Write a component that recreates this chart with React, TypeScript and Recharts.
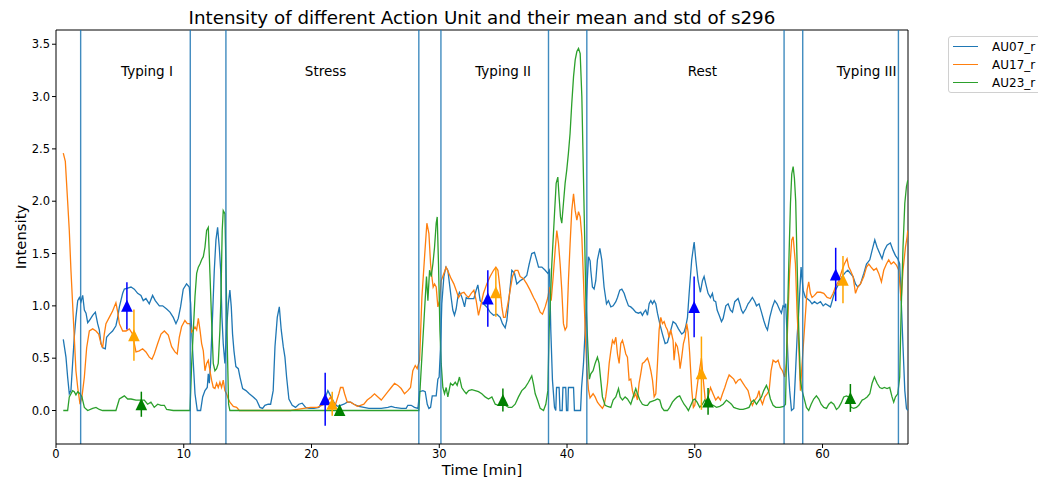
import React from 'react';
import { ComposedChart, Line, Scatter, XAxis, YAxis, ReferenceLine, ErrorBar, Label } from 'recharts';

const X_MAX = 66.69;
const Y_MIN = -0.32;
const Y_MAX = 3.636;
const xTicks = [0, 10, 20, 30, 40, 50, 60];
const yTicks = [0, 0.5, 1, 1.5, 2, 2.5, 3, 3.5];

const sectionBounds = [1.93, 10.51, 13.3, 28.4, 30.13, 38.55, 41.55, 56.99, 58.45, 65.94];
const sectionNames = ['Typing I', 'Stress', 'Typing II', 'Rest', 'Typing III'];
const sectionLabelTimes = [7.12, 21.1, 35.0, 50.6, 63.45];
const sectionLabelLevel = 3.245;

const seriesNames = ['AU07_r', 'AU17_r', 'AU23_r'];
const seriesColors = ['#1f77b4', '#ff7f0e', '#2ca02c'];
const statColors = ['#0000ff', '#ffa500', '#008000'];

// [time (min), intensity]
const AU07: [number, number][] = [[0.57,0.68],[0.78,0.51],[0.91,0.32],[1.04,0.16],[1.17,0.19],[1.30,0.45],[1.43,0.70],[1.56,0.89],[1.70,1.05],[1.83,1.08],[1.96,1.04],[2.09,1.10],[2.22,0.96],[2.35,0.93],[2.48,0.84],[2.61,0.86],[2.87,0.91],[3.08,0.94],[3.26,0.83],[3.39,0.77],[3.52,0.64],[3.65,0.60],[3.86,0.59],[3.96,0.70],[4.17,0.73],[4.43,0.76],[4.69,0.81],[4.83,0.89],[4.96,0.99],[5.22,1.12],[5.35,1.16],[5.61,1.17],[5.87,1.18],[6.13,1.16],[6.39,1.12],[6.65,1.10],[6.83,1.05],[7.04,1.07],[7.30,1.02],[7.56,1.10],[7.77,1.05],[8.09,1.00],[8.35,1.00],[8.66,0.97],[8.92,0.94],[9.18,0.89],[9.39,0.83],[9.57,0.88],[9.75,0.99],[9.96,1.16],[10.22,1.21],[10.43,1.18],[10.54,1.02],[10.64,0.70],[10.75,0.45],[10.88,0.16],[11.06,0.0],[11.32,0.0],[11.48,0.13],[11.66,0.19],[11.84,0.22],[11.92,0.35],[12.0,0.26],[12.10,0.45],[12.26,0.92],[12.39,1.34],[12.52,1.63],[12.65,1.75],[12.78,1.56],[12.89,1.34],[12.99,0.89],[13.09,0.64],[13.22,0.45],[13.35,0.77],[13.49,1.02],[13.61,1.15],[13.72,0.99],[13.82,0.73],[13.93,0.57],[14.08,0.42],[14.27,0.40],[14.40,0.32],[14.61,0.21],[14.87,0.19],[15.13,0.16],[15.44,0.13],[15.70,0.10],[15.96,0.03],[16.17,0.02],[16.35,0.05],[16.61,0.06],[16.80,0.06],[17.0,0.19],[17.14,0.61],[17.32,0.89],[17.48,0.99],[17.63,0.77],[17.79,0.61],[17.92,0.51],[18.05,0.32],[18.23,0.11],[18.49,0.05],[18.75,0.03],[19.01,0.06],[19.27,0.07],[19.54,0.03],[19.80,0.02],[20.19,0.02],[20.58,0.03],[20.84,0.08],[21.10,0.13],[21.28,0.19],[21.49,0.14],[21.75,0.08],[22.01,0.04],[22.27,0.05],[22.53,0.06],[22.80,0.08],[23.06,0.08],[23.32,0.06],[23.71,0.04],[24.10,0.03],[24.49,0.02],[24.93,0.02],[25.46,0.02],[25.98,0.03],[26.24,0.04],[26.50,0.03],[27.02,0.02],[27.41,0.02],[27.54,0.05],[27.80,0.05],[28.06,0.03],[28.33,0.02],[28.46,0.18],[28.72,0.19],[28.90,0.18],[29.06,0.06],[29.19,0.02],[29.32,0.03],[29.45,0.14],[29.76,0.14],[29.89,0.30],[29.99,0.32],[30.10,0.61],[30.20,1.02],[30.36,1.28],[30.52,1.37],[30.67,1.34],[30.80,1.21],[30.93,1.08],[31.06,0.96],[31.19,0.91],[31.32,0.97],[31.45,1.08],[31.58,1.13],[31.72,1.10],[31.85,1.05],[31.98,0.99],[32.11,1.08],[32.24,1.07],[32.50,1.07],[32.71,1.07],[32.89,1.15],[33.02,1.20],[33.20,1.05],[33.46,1.02],[33.72,0.99],[33.98,0.94],[34.25,0.91],[34.51,0.92],[34.77,0.89],[34.95,0.83],[35.16,0.79],[35.29,0.86],[35.47,1.08],[35.68,1.34],[35.89,1.31],[36.07,1.21],[36.33,1.24],[36.59,1.26],[36.85,1.29],[37.04,1.40],[37.24,1.50],[37.45,1.51],[37.64,1.43],[37.77,1.37],[38.03,1.37],[38.29,1.34],[38.50,1.31],[38.63,1.34],[38.73,0.77],[38.86,0.29],[39.02,0.03],[39.12,0.0],[39.18,0.22],[39.38,0.22],[39.45,0.0],[39.62,0.0],[39.68,0.22],[39.90,0.22],[39.96,0.0],[40.06,0.0],[40.11,0.22],[40.51,0.22],[40.58,0.0],[41.06,0.0],[41.14,0.22],[41.29,0.45],[41.42,0.77],[41.55,1.15],[41.68,1.47],[41.81,1.43],[41.86,1.34],[41.99,1.18],[42.12,1.16],[42.25,1.24],[42.38,1.44],[42.57,1.55],[42.72,1.44],[42.90,1.18],[43.09,1.02],[43.24,1.05],[43.43,0.99],[43.61,1.00],[43.82,1.04],[43.95,1.08],[44.13,1.15],[44.29,1.16],[44.47,1.12],[44.60,1.07],[44.81,1.00],[44.99,0.99],[45.17,0.97],[45.38,0.94],[45.59,0.93],[45.77,0.94],[45.90,0.91],[46.03,0.94],[46.16,0.96],[46.30,0.91],[46.43,1.02],[46.56,1.05],[46.69,1.02],[46.82,1.05],[46.95,1.02],[47.08,0.93],[47.26,0.83],[47.47,0.73],[47.68,0.64],[47.86,0.65],[48.04,0.73],[48.30,0.85],[48.51,0.83],[48.72,0.78],[48.98,0.73],[49.16,0.75],[49.29,0.80],[49.43,0.89],[49.56,1.12],[49.76,1.44],[49.95,1.61],[50.08,1.44],[50.26,1.24],[50.44,1.13],[50.60,1.24],[50.73,1.28],[50.86,1.21],[51.04,1.12],[51.23,1.08],[51.38,1.12],[51.49,1.05],[51.64,1.04],[51.75,0.96],[51.91,0.91],[52.09,0.85],[52.22,0.88],[52.43,1.00],[52.61,1.02],[52.79,0.96],[52.95,0.94],[53.13,1.04],[53.39,1.07],[53.52,1.02],[53.65,0.96],[53.78,0.93],[53.99,0.97],[54.17,1.02],[54.30,1.04],[54.51,1.08],[54.70,1.04],[54.83,1.00],[55.03,1.02],[55.22,0.94],[55.40,0.86],[55.56,0.80],[55.69,0.77],[55.87,0.89],[56.08,0.99],[56.26,1.05],[56.44,1.02],[56.65,0.96],[56.78,0.93],[56.91,1.00],[57.04,0.99],[57.12,1.02],[57.23,0.70],[57.33,0.38],[57.43,0.19],[57.57,0.0],[57.75,0.02],[57.88,0.35],[58.01,0.70],[58.14,0.95],[58.32,1.37],[58.48,1.15],[58.66,1.08],[58.79,1.07],[59.0,1.05],[59.18,1.02],[59.37,1.04],[59.58,1.02],[59.84,1.04],[60.05,1.00],[60.23,1.02],[60.49,1.00],[60.62,0.99],[60.83,1.08],[61.01,1.15],[61.27,1.21],[61.53,1.28],[61.79,1.32],[61.98,1.34],[62.18,1.31],[62.39,1.28],[62.58,1.21],[62.76,1.18],[62.97,1.21],[63.23,1.31],[63.44,1.40],[63.70,1.44],[63.88,1.53],[64.09,1.63],[64.27,1.56],[64.48,1.50],[64.66,1.45],[64.84,1.53],[65.05,1.58],[65.31,1.60],[65.52,1.53],[65.71,1.48],[65.89,1.45],[66.04,1.40],[66.15,1.08],[66.30,0.61],[66.44,0.19],[66.57,0.02],[66.67,0.0]];

const AU17: [number, number][] = [[0.57,2.46],[0.73,2.38],[0.91,2.0],[1.04,1.72],[1.17,1.34],[1.30,1.02],[1.43,0.70],[1.56,0.38],[1.70,0.22],[1.88,0.06],[2.03,0.13],[2.22,0.32],[2.40,0.60],[2.61,0.76],[2.87,0.78],[3.13,0.76],[3.34,0.73],[3.52,0.64],[3.65,0.60],[3.78,0.73],[3.91,0.83],[4.17,0.89],[4.43,0.95],[4.69,1.03],[4.83,0.94],[4.96,0.83],[5.22,0.76],[5.48,0.76],[5.74,0.78],[6.0,0.73],[6.13,0.64],[6.26,0.56],[6.52,0.57],[6.78,0.59],[7.04,0.56],[7.30,0.51],[7.51,0.49],[7.69,0.54],[7.96,0.64],[8.22,0.73],[8.48,0.76],[8.79,0.72],[9.05,0.61],[9.31,0.56],[9.49,0.54],[9.65,0.70],[9.83,0.80],[10.09,0.86],[10.28,0.83],[10.49,0.83],[10.62,0.75],[10.75,0.77],[10.88,0.80],[11.01,0.77],[11.14,0.88],[11.27,0.77],[11.40,0.64],[11.53,0.57],[11.66,0.38],[11.79,0.45],[11.92,0.48],[12.05,0.38],[12.18,0.29],[12.31,0.22],[12.44,0.21],[12.57,0.26],[12.70,0.22],[12.83,0.27],[12.96,0.22],[13.09,0.29],[13.22,0.19],[13.35,0.16],[13.49,0.11],[13.61,0.08],[13.88,0.04],[14.14,0.03],[14.35,0.0],[18.36,0.0],[18.88,0.01],[19.40,0.02],[19.93,0.03],[20.45,0.03],[20.84,0.05],[21.23,0.08],[21.49,0.13],[21.62,0.08],[21.75,0.05],[21.88,0.06],[22.14,0.16],[22.27,0.22],[22.46,0.22],[22.59,0.16],[22.80,0.08],[23.06,0.08],[23.32,0.06],[23.58,0.04],[23.84,0.05],[24.10,0.06],[24.36,0.10],[24.67,0.13],[24.93,0.16],[25.20,0.13],[25.46,0.10],[25.72,0.14],[25.98,0.18],[26.24,0.22],[26.50,0.26],[26.76,0.24],[27.02,0.21],[27.28,0.16],[27.54,0.19],[27.75,0.22],[27.93,0.38],[28.12,0.43],[28.27,0.40],[28.46,0.48],[28.64,1.08],[28.85,1.47],[29.03,1.79],[29.19,1.69],[29.32,1.40],[29.42,1.28],[29.52,1.18],[29.63,1.21],[29.76,1.18],[29.89,0.99],[30.02,1.05],[30.15,1.24],[30.36,1.31],[30.54,1.37],[30.72,1.32],[30.93,1.26],[31.14,1.21],[31.32,1.15],[31.51,1.08],[31.72,1.12],[31.93,1.13],[32.11,1.10],[32.29,1.08],[32.50,1.12],[32.71,1.15],[32.89,1.05],[33.07,0.91],[33.28,1.02],[33.46,1.12],[33.72,1.21],[33.98,1.28],[34.25,1.34],[34.43,1.37],[34.59,1.34],[34.77,1.15],[34.90,0.99],[35.03,0.89],[35.16,0.89],[35.37,1.02],[35.55,1.15],[35.73,1.28],[35.94,1.34],[36.15,1.34],[36.33,1.28],[36.59,1.26],[36.85,1.21],[37.11,1.15],[37.38,1.08],[37.64,1.02],[37.90,0.94],[38.08,0.92],[38.29,0.99],[38.50,1.08],[38.63,1.18],[38.76,1.05],[38.89,1.24],[39.07,1.53],[39.20,1.72],[39.33,1.60],[39.46,1.40],[39.59,1.15],[39.72,0.83],[39.85,0.77],[39.98,0.80],[40.11,1.24],[40.24,1.59],[40.37,1.91],[40.51,2.07],[40.64,1.91],[40.77,1.82],[40.90,1.90],[41.03,1.85],[41.16,1.66],[41.29,1.24],[41.42,0.77],[41.55,0.40],[41.68,0.20],[41.80,0.12],[41.86,0.13],[42.04,0.16],[42.20,0.13],[42.38,0.08],[42.57,0.05],[42.77,0.02],[42.90,0.05],[43.03,0.13],[43.17,0.26],[43.30,0.45],[43.43,0.57],[43.56,0.67],[43.69,0.64],[43.82,0.70],[43.95,0.54],[44.08,0.45],[44.21,0.64],[44.34,0.67],[44.47,0.61],[44.60,0.54],[44.73,0.51],[44.86,0.29],[44.99,0.30],[45.12,0.19],[45.25,0.13],[45.38,0.16],[45.51,0.10],[45.64,0.26],[45.77,0.35],[45.90,0.45],[46.03,0.46],[46.16,0.48],[46.30,0.50],[46.43,0.45],[46.56,0.38],[46.69,0.29],[46.82,0.13],[46.95,0.16],[47.08,0.45],[47.21,0.77],[47.34,0.89],[47.47,0.83],[47.60,0.85],[47.73,0.80],[47.86,0.77],[47.99,0.70],[48.12,0.77],[48.30,0.67],[48.38,0.48],[48.51,0.64],[48.64,0.61],[48.77,0.51],[48.85,0.40],[48.98,0.51],[49.11,0.64],[49.24,0.70],[49.37,0.83],[49.48,0.75],[49.60,0.55],[49.76,0.20],[49.89,0.03],[50.0,0.05],[50.26,0.30],[50.52,0.50],[50.70,0.25],[50.86,0.05],[51.04,0.13],[51.23,0.22],[51.43,0.16],[51.64,0.10],[51.83,0.13],[52.01,0.10],[52.17,0.16],[52.35,0.22],[52.53,0.29],[52.69,0.34],[52.87,0.32],[53.05,0.30],[53.21,0.26],[53.39,0.29],[53.57,0.30],[53.78,0.26],[53.99,0.22],[54.17,0.19],[54.36,0.10],[54.51,0.05],[54.70,0.10],[54.88,0.13],[55.03,0.19],[55.14,0.11],[55.30,0.06],[55.48,0.13],[55.66,0.16],[55.82,0.19],[55.97,0.38],[56.13,0.48],[56.34,0.46],[56.52,0.48],[56.70,0.41],[56.86,0.38],[57.04,0.32],[57.17,0.45],[57.30,0.92],[57.43,1.34],[57.59,1.63],[57.70,1.66],[57.88,1.40],[58.01,0.93],[58.14,0.61],[58.27,0.19],[58.40,0.45],[58.58,0.77],[58.79,1.15],[58.92,1.23],[59.05,1.12],[59.18,1.08],[59.37,1.10],[59.58,1.13],[59.84,1.13],[60.10,1.12],[60.36,1.08],[60.62,1.07],[60.83,1.12],[61.01,1.18],[61.27,1.24],[61.53,1.34],[61.71,1.40],[61.92,1.45],[62.05,1.37],[62.18,1.34],[62.39,1.28],[62.58,1.12],[62.76,1.18],[62.97,1.21],[63.23,1.28],[63.44,1.37],[63.62,1.40],[63.80,1.37],[64.01,1.34],[64.22,1.36],[64.40,1.31],[64.61,1.23],[64.79,1.34],[65.0,1.40],[65.18,1.44],[65.37,1.40],[65.57,1.42],[65.78,1.39],[65.97,1.34],[66.15,1.05],[66.30,1.34],[66.49,1.56],[66.62,1.66],[66.67,1.72]];

const AU23: [number, number][] = [[0.57,0.0],[0.91,0.0],[1.04,0.13],[1.30,0.19],[1.43,0.18],[1.56,0.15],[1.70,0.18],[1.88,0.16],[2.03,0.13],[2.22,0.03],[2.48,0.0],[2.87,0.02],[3.13,0.03],[3.39,0.01],[3.65,0.0],[4.69,0.0],[4.96,0.11],[5.22,0.13],[5.35,0.14],[5.61,0.11],[5.87,0.11],[6.26,0.10],[6.52,0.10],[6.91,0.10],[7.17,0.06],[7.43,0.08],[7.69,0.03],[7.96,0.06],[8.22,0.05],[8.48,0.05],[8.66,0.01],[9.18,0.0],[10.49,0.0],[10.62,0.45],[10.75,0.77],[10.88,1.09],[11.01,1.31],[11.14,1.37],[11.27,1.40],[11.40,1.44],[11.53,1.47],[11.66,1.56],[11.79,1.72],[11.92,1.75],[12.05,1.31],[12.18,0.86],[12.31,0.45],[12.44,0.38],[12.57,0.40],[12.70,0.45],[12.83,0.77],[12.91,1.08],[13.01,1.72],[13.09,1.91],[13.22,1.88],[13.30,1.40],[13.41,0.61],[13.51,0.06],[13.61,0.0],[28.40,0.0],[29.0,1.28],[29.11,1.05],[29.24,1.34],[29.37,1.28],[29.50,1.40],[29.63,1.56],[29.76,1.79],[29.84,1.85],[29.94,1.40],[30.05,0.77],[30.15,0.45],[30.28,0.22],[30.41,0.16],[30.54,0.22],[30.67,0.13],[30.88,0.26],[31.06,0.24],[31.25,0.27],[31.40,0.24],[31.58,0.32],[31.76,0.22],[31.92,0.19],[32.11,0.16],[32.30,0.19],[32.55,0.20],[32.81,0.19],[33.07,0.18],[33.33,0.16],[33.59,0.13],[33.85,0.11],[34.12,0.13],[34.38,0.06],[34.64,0.05],[34.90,0.05],[35.16,0.05],[35.42,0.03],[35.68,0.03],[35.94,0.06],[36.20,0.13],[36.46,0.19],[36.72,0.22],[36.98,0.27],[37.24,0.33],[37.38,0.25],[37.51,0.16],[37.69,0.10],[37.90,0.02],[38.16,0.0],[38.34,0.06],[38.50,0.19],[38.60,0.77],[38.81,1.40],[39.02,1.88],[39.15,2.17],[39.28,2.23],[39.38,2.04],[39.49,1.85],[39.59,1.79],[39.72,1.98],[39.85,2.17],[39.98,2.30],[40.11,2.46],[40.24,2.65],[40.37,2.93],[40.51,3.19],[40.64,3.35],[40.77,3.43],[40.90,3.46],[41.03,3.41],[41.16,3.00],[41.24,2.52],[41.37,1.72],[41.47,1.08],[41.63,0.61],[41.75,0.30],[41.86,0.35],[42.04,0.38],[42.20,0.45],[42.38,0.51],[42.51,0.45],[42.64,0.29],[42.77,0.13],[42.98,0.05],[43.17,0.04],[43.43,0.03],[43.61,0.10],[43.82,0.13],[44.03,0.21],[44.16,0.13],[44.34,0.10],[44.55,0.13],[44.73,0.11],[44.99,0.06],[45.25,0.16],[45.38,0.21],[45.51,0.16],[45.70,0.10],[45.90,0.06],[46.11,0.05],[46.30,0.05],[46.48,0.08],[46.69,0.09],[46.90,0.10],[47.08,0.11],[47.26,0.10],[47.42,0.03],[47.60,0.0],[47.86,0.0],[48.04,0.03],[48.25,0.08],[48.46,0.11],[48.64,0.13],[48.82,0.14],[48.98,0.10],[49.16,0.06],[49.35,0.03],[49.50,0.0],[49.69,0.05],[49.87,0.10],[50.0,0.11],[50.18,0.08],[50.39,0.03],[50.60,0.06],[50.78,0.10],[50.97,0.08],[51.17,0.06],[51.44,0.05],[51.70,0.03],[51.96,0.04],[52.22,0.06],[52.48,0.10],[52.69,0.08],[52.87,0.06],[53.05,0.03],[53.26,0.02],[53.52,0.01],[53.78,0.01],[54.04,0.02],[54.25,0.03],[54.44,0.08],[54.62,0.10],[54.83,0.06],[55.04,0.10],[55.22,0.13],[55.40,0.19],[55.61,0.24],[55.77,0.19],[55.92,0.11],[56.13,0.05],[56.34,0.03],[56.65,0.03],[56.97,0.04],[57.10,0.06],[57.23,0.77],[57.36,1.40],[57.49,1.98],[57.59,2.26],[57.70,2.33],[57.80,2.22],[57.90,2.00],[58.01,1.40],[58.14,0.77],[58.27,0.29],[58.40,0.19],[58.53,0.13],[58.74,0.03],[58.92,0.0],[59.11,0.06],[59.31,0.11],[59.52,0.14],[59.71,0.11],[59.89,0.06],[60.10,0.03],[60.31,0.02],[60.49,0.06],[60.67,0.08],[60.88,0.06],[61.09,0.01],[61.27,0.03],[61.45,0.07],[61.66,0.13],[61.87,0.14],[62.05,0.13],[62.23,0.03],[62.44,0.02],[62.65,0.03],[62.84,0.05],[63.10,0.10],[63.28,0.11],[63.49,0.13],[63.70,0.16],[63.88,0.26],[64.06,0.32],[64.27,0.26],[64.48,0.22],[64.66,0.21],[64.84,0.22],[65.05,0.21],[65.26,0.22],[65.44,0.13],[65.57,0.08],[65.71,0.13],[65.89,0.16],[66.04,0.32],[66.15,0.93],[66.30,1.56],[66.44,1.98],[66.57,2.14],[66.67,2.20]];

// [time, mean, std] per section
const AU07_STATS: [number, number, number][] = [[5.55,1.0,0.225],[21.07,0.107,0.253],[33.8,1.07,0.27],[49.95,0.99,0.29],[61.03,1.30,0.255]];
const AU17_STATS: [number, number, number][] = [[6.1,0.72,0.245],[21.62,0.065,0.115],[34.43,1.13,0.235],[50.52,0.357,0.35],[61.6,1.25,0.226]];
const AU23_STATS: [number, number, number][] = [[6.68,0.06,0.12],[22.2,0.005,0.03],[34.98,0.10,0.11],[51.04,0.087,0.127],[62.18,0.12,0.133]];

const FONT = "'DejaVu Sans', sans-serif";

const toLine = (arr: [number, number][]) => arr.map(([t, v]) => ({ t, v }));
const toStats = (arr: [number, number, number][]) => arr.map(([t, v, err]) => ({ t, v, err }));
const lineData = [AU07, AU17, AU23].map(toLine);
const statData = [AU07_STATS, AU17_STATS, AU23_STATS].map(toStats);
const labelData = sectionNames.map((name, i) => ({ t: sectionLabelTimes[i], v: sectionLabelLevel, name }));

const makeTriangle = (color: string) => (props: any) => {
  const { cx, cy } = props;
  if (cx == null || cy == null) return <g />;
  const w = 5.8, h = 6;
  return <path d={`M${cx},${cy - h}L${cx + w},${cy + h}L${cx - w},${cy + h}Z`} fill={color} />;
};

const textShape = (props: any) => {
  const { cx, cy, payload } = props;
  return (
    <text x={cx} y={cy} textAnchor="middle" dominantBaseline="central" fontSize={13.5} fontFamily={FONT} fill="#000">
      {payload.name}
    </text>
  );
};

export default function App() {
  return (
    <div style={{ position: 'absolute', left: 0, top: 0, width: 1038, height: 479, background: '#fff', overflow: 'hidden', fontFamily: FONT }}>
      <div style={{ position: 'absolute', left: 56, top: 6, width: 852, textAlign: 'center', fontSize: 18.3, color: '#000', lineHeight: '24px', whiteSpace: 'nowrap' }}>
        Intensity of different Action Unit and their mean and std of s296
      </div>
      <ComposedChart width={1038} height={479} margin={{ top: 30, right: 130, bottom: 0, left: 0 }}>
        <XAxis
          type="number"
          dataKey="t"
          domain={[0, X_MAX]}
          ticks={xTicks}
          interval={0}
          allowDataOverflow
          height={35}
          tickSize={4}
          tickMargin={2}
          tick={{ fill: '#000', fontSize: 11.5, fontFamily: FONT }}
          tickLine={{ stroke: '#000' }}
          axisLine={{ stroke: '#000' }}
        >
          <Label value="Time [min]" position="insideBottom" offset={4} fill="#000" fontSize={14.8} fontFamily={FONT} />
        </XAxis>
        <YAxis
          type="number"
          domain={[Y_MIN, Y_MAX]}
          ticks={yTicks}
          interval={0}
          allowDataOverflow
          width={56}
          tickSize={4}
          tickMargin={2}
          tickFormatter={(v: number) => v.toFixed(1)}
          tick={{ fill: '#000', fontSize: 11.5, fontFamily: FONT }}
          tickLine={{ stroke: '#000' }}
          axisLine={{ stroke: '#000' }}
        >
          <Label
            content={(p: any) => {
              const vb = p.viewBox || { x: 0, y: 30, width: 56, height: 414 };
              const x = vb.x + 20;
              const y = vb.y + vb.height / 2;
              return (
                <text x={x} y={y} transform={`rotate(-90 ${x} ${y})`} textAnchor="middle" dominantBaseline="central" fontSize={14.8} fontFamily={FONT} fill="#000">
                  Intensity
                </text>
              );
            }}
          />
        </YAxis>
        <ReferenceLine y={Y_MAX} stroke="#000" strokeWidth={1} />
        <ReferenceLine x={X_MAX} stroke="#000" strokeWidth={1} />
        {lineData.map((d, i) => (
          <Line
            key={seriesNames[i]}
            name={seriesNames[i]}
            data={d}
            dataKey="v"
            type="linear"
            stroke={seriesColors[i]}
            strokeWidth={1.3}
            dot={false}
            activeDot={false}
            isAnimationActive={false}
          />
        ))}
        {sectionBounds.map((b) => (
          <ReferenceLine key={b} x={b} stroke="#1f77b4" strokeOpacity={0.85} strokeWidth={1.4} />
        ))}
        {statData.map((d, i) => (
          <Scatter key={'s' + i} data={d} dataKey="v" shape={makeTriangle(statColors[i])} isAnimationActive={false}>
            <ErrorBar dataKey="err" direction="y" width={0} stroke={statColors[i]} strokeWidth={1.5} />
          </Scatter>
        ))}
        <Scatter data={labelData} dataKey="v" shape={textShape} isAnimationActive={false} />
      </ComposedChart>
      <div style={{ position: 'absolute', left: 948, top: 36, width: 110, height: 57, border: '1px solid #d0d0d0', borderRadius: 3, background: '#fff', boxSizing: 'border-box' }}>
        {seriesNames.map((n, i) => (
          <div key={n} style={{ position: 'absolute', left: 0, top: 2 + i * 18.2, height: 16, width: 110 }}>
            <div style={{ position: 'absolute', left: 4, top: 7, width: 25, height: 0, borderTop: `1.5px solid ${seriesColors[i]}` }} />
            <div style={{ position: 'absolute', left: 43, top: 0, fontSize: 12, lineHeight: '16px', color: '#000' }}>{n}</div>
          </div>
        ))}
      </div>
    </div>
  );
}
